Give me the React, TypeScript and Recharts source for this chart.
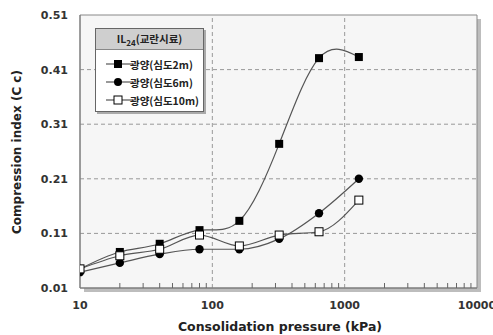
import { LineChart, Line, XAxis, YAxis, ReferenceLine, ReferenceArea } from 'recharts';

const pressures = [10, 20, 40, 80, 160, 320, 640, 1280];
const depth2m = [0.045, 0.076, 0.091, 0.116, 0.133, 0.274, 0.431, 0.433];
const depth6m = [0.039, 0.056, 0.072, 0.081, 0.081, 0.1, 0.147, 0.21];
const depth10m = [0.045, 0.069, 0.081, 0.107, 0.087, 0.107, 0.113, 0.171];

const yTicks = [0.01, 0.11, 0.21, 0.31, 0.41, 0.51];
const xMajor = [10, 100, 1000, 10000];
const xTicks = [10, 20, 30, 40, 50, 60, 70, 80, 90, 100, 200, 300, 400, 500, 600, 700, 800, 900, 1000, 2000, 3000, 4000, 5000, 6000, 7000, 8000, 9000, 10000];
const xGrid = [100, 1000];
const yGrid = [0.11, 0.21, 0.31, 0.41];

const legendTitle = 'IL';
const legendSub = '24';
const legendTitleRest = '(교란시료)';
const seriesNames = ['광양(심도2m)', '광양(심도6m)', '광양(심도10m)'];

const data = pressures.map((p, i) => ({ p, a: depth2m[i], b: depth6m[i], c: depth10m[i] }));

const FONT = '"DejaVu Sans", "Noto Sans CJK KR", sans-serif';
const KFONT = '"Noto Sans CJK KR", "DejaVu Sans", sans-serif';
const LINE = '#555';

function FilledSquare(props: any) {
  const { cx, cy } = props;
  if (cx == null || cy == null) return null;
  return <rect x={cx - 4} y={cy - 4} width={8} height={8} fill="#000" />;
}

function Circle(props: any) {
  const { cx, cy } = props;
  if (cx == null || cy == null) return null;
  return <circle cx={cx} cy={cy} r={4.2} fill="#000" />;
}

function OpenSquare(props: any) {
  const { cx, cy } = props;
  if (cx == null || cy == null) return null;
  return <rect x={cx - 4} y={cy - 4} width={8} height={8} fill="#fff" stroke="#000" strokeWidth={1} />;
}

function XTick(props: any) {
  const { x, y, payload } = props;
  const major = xMajor.includes(payload.value);
  return (
    <g>
      {!major && <line x1={x} x2={x} y1={y} y2={y - 5} stroke="#666" />}
      {major && (
        <text x={x} y={y + 21} textAnchor="middle" fontSize={11} fontWeight="bold" fill="#333" fontFamily={FONT}>
          {payload.value}
        </text>
      )}
    </g>
  );
}

function LegendRow({ kind, label }: { kind: number; label: string }) {
  return (
    <div style={{ display: 'flex', alignItems: 'center', height: 18, whiteSpace: 'nowrap' }}>
      <svg width={28} height={12} style={{ marginLeft: 10, flexShrink: 0 }}>
        <line x1={0} x2={26} y1={6} y2={6} stroke={LINE} strokeWidth={1.2} />
        {kind === 0 && <rect x={8} y={2} width={8} height={8} fill="#000" />}
        {kind === 1 && <circle cx={12} cy={6} r={4} fill="#000" />}
        {kind === 2 && <rect x={8} y={2} width={8} height={8} fill="#fff" stroke="#000" />}
      </svg>
      <span style={{ fontSize: 10.5, fontWeight: 'bold', color: '#222', marginLeft: -4, fontFamily: KFONT }}>{label}</span>
    </div>
  );
}

export default function App() {
  return (
    <div style={{ position: 'absolute', left: 0, top: 0, width: 493, height: 335, background: '#fff', fontFamily: FONT }}>
      <div style={{ position: 'absolute', left: 84, top: 19, width: 397, height: 273, background: '#bdbdbd' }} />
      <div style={{ position: 'absolute', left: 0, top: 0 }}>
        <LineChart width={493} height={335} data={data} margin={{ top: 15, right: 16, left: 30, bottom: 7 }}>
          <ReferenceArea x1={10} x2={10000} y1={0.01} y2={0.51} fill="#f6f6f6" fillOpacity={1} stroke="none" />
          {xGrid.map((v) => (
            <ReferenceLine key={'x' + v} x={v} stroke="#999" strokeDasharray="4 3" />
          ))}
          {yGrid.map((v) => (
            <ReferenceLine key={'y' + v} y={v} stroke="#999" strokeDasharray="4 3" />
          ))}
          <ReferenceArea x1={10} x2={10000} y1={0.01} y2={0.51} fill="none" stroke="#888" strokeWidth={1} />
          <XAxis
            dataKey="p"
            type="number"
            scale="log"
            domain={[10, 10000]}
            ticks={xTicks}
            interval={0}
            height={40}
            tickSize={0}
            tickMargin={0}
            tickLine={false}
            axisLine={{ stroke: '#777' }}
            tick={<XTick />}
            allowDataOverflow
          />
          <YAxis
            type="number"
            domain={[0.01, 0.51]}
            ticks={yTicks}
            width={50}
            tickSize={0}
            tickMargin={12}
            tickLine={false}
            axisLine={{ stroke: '#777' }}
            tick={{ fontSize: 11, fontWeight: 'bold', fill: '#333', fontFamily: FONT }}
            tickFormatter={(v: number) => v.toFixed(2)}
          />
          <Line type="natural" dataKey="a" stroke={LINE} strokeWidth={1.2} dot={<FilledSquare />} isAnimationActive={false} />
          <Line type="monotone" dataKey="b" stroke={LINE} strokeWidth={1.2} dot={<Circle />} isAnimationActive={false} />
          <Line type="monotone" dataKey="c" stroke={LINE} strokeWidth={1.2} dot={<OpenSquare />} isAnimationActive={false} />
        </LineChart>
      </div>
      <div
        style={{
          position: 'absolute',
          left: 17,
          top: 152,
          transform: 'translate(-50%, -50%) rotate(-90deg)',
          whiteSpace: 'nowrap',
          fontSize: 12,
          fontWeight: 'bold',
          color: '#222',
        }}
      >
        Compression index (C c)
      </div>
      <div
        style={{
          position: 'absolute',
          left: 280,
          top: 326,
          transform: 'translate(-50%, -50%)',
          whiteSpace: 'nowrap',
          fontSize: 12.5,
          fontWeight: 'bold',
          color: '#222',
        }}
      >
        Consolidation pressure (kPa)
      </div>
      <div
        style={{
          position: 'absolute',
          left: 95,
          top: 28,
          width: 109,
          height: 84,
          background: '#fff',
          border: '1px solid #666',
          boxShadow: '2px 2px 0 #aaa',
          boxSizing: 'border-box',
        }}
      >
        <div
          style={{
            height: 20,
            background: '#cfcfcf',
            borderBottom: '1px solid #888',
            textAlign: 'center',
            fontSize: 10.5,
            fontWeight: 'bold',
            color: '#222',
            lineHeight: '19px',
            whiteSpace: 'nowrap',
            fontFamily: KFONT,
          }}
        >
          {legendTitle}
          <sub style={{ fontSize: 8, lineHeight: 0 }}>{legendSub}</sub>
          {legendTitleRest}
        </div>
        <div style={{ paddingTop: 5 }}>
          {seriesNames.map((n, i) => (
            <LegendRow key={n} kind={i} label={n} />
          ))}
        </div>
      </div>
    </div>
  );
}
